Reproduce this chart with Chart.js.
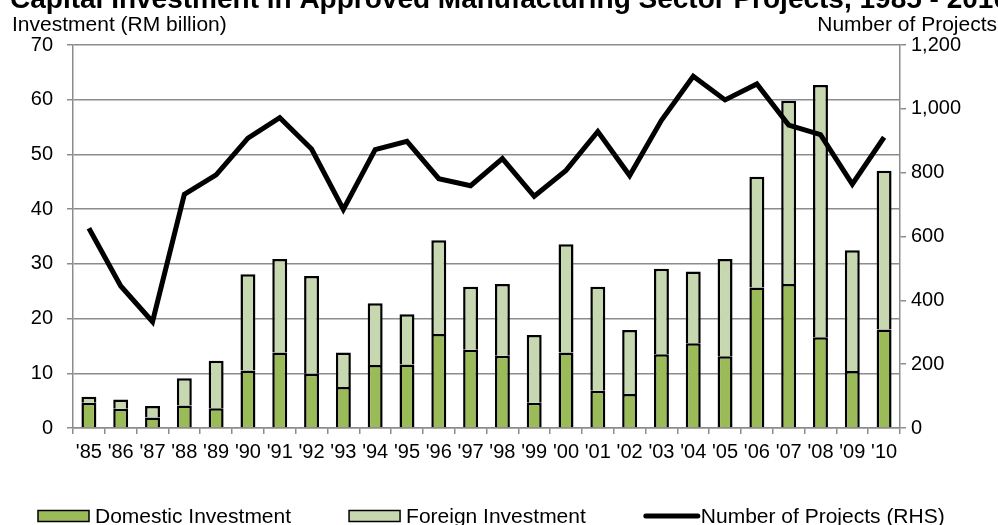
<!DOCTYPE html>
<html>
<head>
<meta charset="utf-8">
<script src="https://cdn.jsdelivr.net/npm/chart.js@4.4.1/dist/chart.umd.min.js"></script>
<style>
  html, body { margin: 0; padding: 0; background: #fff; overflow: hidden; }
  #wrap { width: 998px; height: 525px; }
</style>
</head>
<body>
<div id="wrap"><canvas id="chart" width="998" height="525"></canvas></div>
<script>
// ── Data ─────────────────────────────────────────────────────────
const years = ["'85", "'86", "'87", "'88", "'89", "'90", "'91", "'92", "'93", "'94", "'95", "'96", "'97",
               "'98", "'99", "'00", "'01", "'02", "'03", "'04", "'05", "'06", "'07", "'08", "'09", "'10"];
const domestic = [4.6, 3.5, 1.9, 4.1, 3.6, 10.5, 13.8, 9.9, 7.5, 11.5, 11.6, 17.2, 14.3,
                  13.2, 4.6, 13.8, 6.8, 6.2, 13.5, 15.5, 13.1, 25.7, 26.3, 16.6, 10.4, 18.0];
const foreign = [1.1, 1.7, 2.1, 5.0, 8.7, 17.6, 17.1, 17.9, 6.3, 11.3, 9.2, 17.1, 11.5,
                 13.1, 12.4, 19.8, 19.0, 11.7, 15.6, 13.1, 17.8, 20.2, 33.5, 46.1, 22.1, 29.0];
const projects = [626, 445, 333, 732, 793, 908, 972, 874, 685, 872, 898, 781, 759,
                  844, 726, 807, 929, 791, 964, 1102, 1028, 1078, 949, 919, 764, 911];

const TITLE = "Capital Investment in Approved Manufacturing Sector Projects, 1985 - 2010";
const LEFT_TITLE = "Investment (RM billion)";
const RIGHT_TITLE = "Number of Projects";

const FONT = "'Liberation Sans', Arial, sans-serif";
const GRID = "#8c8c8c";
const GREEN = "#9bbb59";
const LIGHT_GREEN = "#c7d8b0";

Chart.defaults.font.family = FONT;
Chart.defaults.color = "#000";

// Title, axis titles and legend drawn on the canvas
const annotatePlugin = {
  id: "annotate",
  afterDraw(chart) {
    const ctx = chart.ctx;
    ctx.save();
    ctx.fillStyle = "#000";

    // main title (clipped at the top edge like the source image)
    ctx.font = "bold 28px " + FONT;
    ctx.textAlign = "left";
    ctx.textBaseline = "alphabetic";
    ctx.fillText(TITLE, 10, 8);

    // axis titles
    ctx.font = "21px " + FONT;
    ctx.fillText(LEFT_TITLE, 12, 31);
    ctx.textAlign = "right";
    ctx.fillText(RIGHT_TITLE, 997, 31);

    // legend
    const y = 516;
    let x = 38;
    ctx.textAlign = "left";
    ctx.textBaseline = "middle";
    const items = [
      { text: "Domestic Investment", kind: "box", fill: GREEN },
      { text: "Foreign Investment", kind: "box", fill: LIGHT_GREEN },
      { text: "Number of Projects (RHS)", kind: "line" },
    ];
    items.forEach(it => {
      if (it.kind === "box") {
        ctx.fillStyle = it.fill;
        ctx.fillRect(x, y - 5.5, 51, 11);
        ctx.strokeStyle = "#000";
        ctx.lineWidth = 1.5;
        ctx.strokeRect(x, y - 5.5, 51, 11);
      } else {
        ctx.strokeStyle = "#000";
        ctx.lineWidth = 5;
        ctx.lineCap = "round";
        ctx.beginPath(); ctx.moveTo(x + 2, y); ctx.lineTo(x + 54, y); ctx.stroke();
      }
      x += 57;
      ctx.fillStyle = "#000";
      ctx.fillText(it.text, x, y + 1);
      x += ctx.measureText(it.text).width + 58;
    });
    ctx.restore();
  }
};

new Chart(document.getElementById("chart"), {
  data: {
    labels: years,
    datasets: [
      {
        type: "line",
        label: "Number of Projects (RHS)",
        data: projects,
        yAxisID: "y1",
        borderColor: "#000",
        borderWidth: 5,
        borderJoinStyle: "miter",
        pointRadius: 0,
        tension: 0,
        order: 0,
      },
      {
        type: "bar",
        label: "Domestic Investment",
        data: domestic,
        yAxisID: "y",
        backgroundColor: GREEN,
        borderColor: "#000",
        borderWidth: 2.5,
        barPercentage: 0.47,
        categoryPercentage: 1.0,
        order: 1,
      },
      {
        type: "bar",
        label: "Foreign Investment",
        data: foreign,
        yAxisID: "y",
        backgroundColor: LIGHT_GREEN,
        borderColor: "#000",
        borderWidth: 2.5,
        barPercentage: 0.47,
        categoryPercentage: 1.0,
        order: 2,
      },
    ]
  },
  plugins: [annotatePlugin],
  options: {
    responsive: false,
    animation: false,
    layout: { padding: { top: 45, bottom: 57, left: 0, right: 0 } },
    plugins: {
      legend: { display: false },
      tooltip: { enabled: false },
      title: { display: false },
    },
    scales: {
      x: {
        stacked: true,
        offset: true,
        grid: { drawOnChartArea: false, offset: true, color: GRID, lineWidth: 1.5, tickLength: 6 },
        border: { color: GRID, width: 1.5 },
        ticks: { font: { size: 20 }, color: "#000", autoSkip: false, maxRotation: 0, padding: 6 },
        afterFit(axis) { axis.height = 40; },
      },
      y: {
        stacked: true,
        position: "left",
        min: 0, max: 70,
        ticks: { stepSize: 10, font: { size: 20 }, color: "#000", padding: 14 },
        grid: { color: GRID, lineWidth: 1.5, tickLength: 6 },
        border: { color: GRID, width: 1.5 },
        afterFit(axis) { axis.width = 73; },
      },
      y1: {
        position: "right",
        min: 0, max: 1200,
        ticks: {
          stepSize: 200, font: { size: 20 }, color: "#000", padding: 5,
          callback: v => v.toLocaleString("en-US"),
        },
        grid: { drawOnChartArea: false, color: GRID, lineWidth: 1.5, tickLength: 6 },
        border: { color: GRID, width: 1.5 },
        afterFit(axis) { axis.width = 98; },
      }
    }
  }
});
</script>
</body>
</html>
